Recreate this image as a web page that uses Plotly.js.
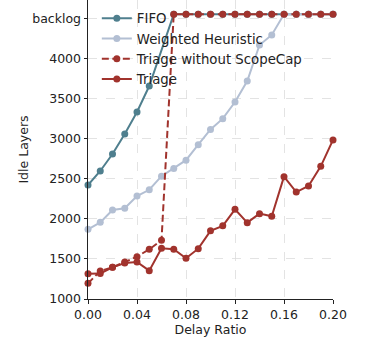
<!DOCTYPE html>
<html>
<head>
<meta charset="utf-8">
<script src="https://cdn.plot.ly/plotly-3.0.1.min.js"></script>
<style>html,body{margin:0;padding:0;background:#fff}#chart{width:368px;height:339px}</style>
</head>
<body>
<div id="chart"></div>
<script>
const delayRatio = [0.00,0.01,0.02,0.03,0.04,0.05,0.06,0.07,0.08,0.09,0.10,0.11,0.12,0.13,0.14,0.15,0.16,0.17,0.18,0.19,0.20];
const BACKLOG = 4560;
const fifo = [2425,2600,2812,3062,3337,3662,null,BACKLOG,BACKLOG,BACKLOG,BACKLOG,BACKLOG,BACKLOG,BACKLOG,BACKLOG,BACKLOG,BACKLOG,BACKLOG,BACKLOG,BACKLOG,BACKLOG];
const weighted = [1871,1958,2112,2135,2287,2365,2535,2630,2735,2928,3120,3254,3462,3725,4175,4300,BACKLOG,BACKLOG,BACKLOG,BACKLOG,BACKLOG];
const triageNoCap = [1196,1350,1396,1462,1529,1621,1733,BACKLOG,BACKLOG,BACKLOG,BACKLOG,BACKLOG,BACKLOG,BACKLOG,BACKLOG,BACKLOG,BACKLOG,BACKLOG,BACKLOG,BACKLOG,BACKLOG];
const triage = [1315,1318,1396,1450,1462,1354,1633,1621,1508,1629,1852,1914,2121,1954,2067,2033,2529,2337,2412,2658,2988];
const yTickVals = [1000,1500,2000,2500,3000,3500,4000,4500];
const yTickText = ['1000','1500','2000','2500','3000','3500','4000','backlog'];
const xTickVals = [0,0.04,0.08,0.12,0.16,0.20];

const cBlue = '#4f7f8e', cLight = '#b3bfd3', cRed = '#a1332d';
function tr(y, name, color, dash) {
  return {x: delayRatio, y: y, name: name, type: 'scatter', mode: 'lines+markers',
    line: {color: color, width: 2, dash: dash || 'solid'}, connectgaps: true,
    marker: {color: color, size: 7}, cliponaxis: false};
}
const data = [
  tr(fifo, 'FIFO', cBlue),
  tr(weighted, 'Weighted Heuristic', cLight),
  tr(triageNoCap, 'Triage without ScopeCap', cRed, '7px,3.5px'),
  tr(triage, 'Triage', cRed)
];
const font = {family: 'DejaVu Sans, sans-serif', size: 12.5, color: '#222'};
const legendFont = {family: 'DejaVu Sans, sans-serif', size: 13.3, color: '#222'};
const layout = {
  width: 368, height: 339,
  margin: {l: 88, r: 35, t: 0, b: 40},
  paper_bgcolor: '#fff', plot_bgcolor: '#fff',
  font: font,
  showlegend: true,
  legend: {x: 0.036, y: 0.99, xanchor: 'left', yanchor: 'top', bgcolor: 'rgba(0,0,0,0)',
    borderwidth: 0, font: legendFont, itemwidth: 30, tracegroupgap: 0},
  xaxis: {range: [0, 0.2], tickvals: xTickVals, tickformat: '.2f', ticks: 'outside', ticklen: 3.5, tickwidth: 1,
    tickcolor: '#222', showline: true, linecolor: '#222', linewidth: 1, mirror: false,
    showgrid: true, gridcolor: '#dcdcdc', griddash: 'dash', gridwidth: 0.8, zeroline: false,
    title: {text: 'Delay Ratio', font: font, standoff: 0}, automargin: false},
  yaxis: {range: [1000, 4737], tickvals: yTickVals, ticktext: yTickText, ticks: 'outside', ticklen: 3.5, tickwidth: 1,
    tickcolor: '#222', showline: true, linecolor: '#222', linewidth: 1, mirror: false,
    showgrid: true, gridcolor: '#dcdcdc', griddash: 'dash', gridwidth: 0.8, zeroline: false,
    title: {text: 'Idle Layers', font: font, standoff: 0}, automargin: false}
};
Plotly.newPlot('chart', data, layout, {displayModeBar: false, staticPlot: true});
</script>
</body>
</html>
